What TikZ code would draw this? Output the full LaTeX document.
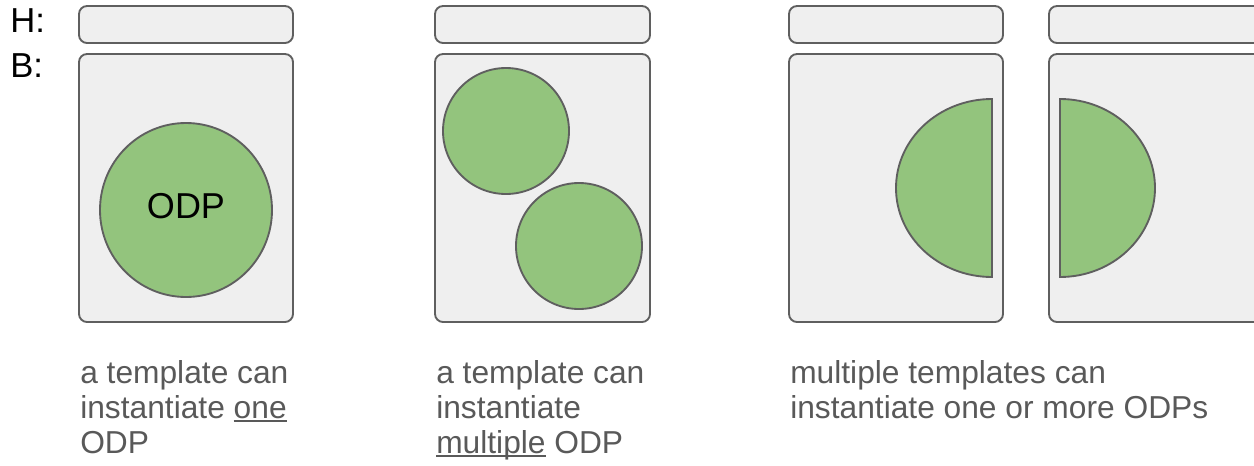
\documentclass[tikz,border=0pt]{standalone}
\usepackage{fontspec}
\setmainfont{Liberation Sans}
\definecolor{boxfill}{HTML}{EFEFEF}
\definecolor{boxline}{HTML}{5F5F5F}
\definecolor{odpgreen}{HTML}{93C47D}
\definecolor{captext}{HTML}{595959}
\newcommand\myul[1]{\setbox0\hbox{#1}\rlap{\rule[-2.8pt]{\wd0}{1.5pt}}\box0\relax}
\tikzset{
  tbox/.style={draw=boxline, fill=boxfill, line width=1.4pt, rounded corners=6pt},
  odp/.style={draw=boxline, fill=odpgreen, line width=1.4pt},
  lbl/.style={font=\fontsize{26}{29}\selectfont, text=black, inner sep=0pt, anchor=base west},
  captxt/.style={font=\fontsize{23.8}{26.3}\selectfont, text=captext, inner sep=0pt, align=left, anchor=north west},
}
\begin{document}
\begin{tikzpicture}[x=0.75pt, y=-0.75pt]
\useasboundingbox (0,0) rectangle (1254,465);
% labels
\node[lbl] (hl) at (10,32) {H:};
\node[lbl] (bl) at (10,77) {B:};
% panel 1
\draw[tbox] (79,6) rectangle (293,43);
\draw[tbox] (79,54) rectangle (293,322);
\draw[odp] (186,210) ellipse [x radius=86, y radius=87];
\node[font=\fontsize{27}{30}\selectfont, inner sep=0pt] (odp1) at (186,206) {ODP};
% panel 2
\draw[tbox] (435,6) rectangle (650,43);
\draw[tbox] (435,54) rectangle (650,322);
\draw[odp] (506,131) circle [radius=63];
\draw[odp] (579,246) circle [radius=63];
% panel 3
\draw[tbox] (789,6) rectangle (1003,43);
\draw[tbox] (789,54) rectangle (1003,322);
\draw[odp] (992,99) arc[start angle=270, end angle=90, x radius=96, y radius=89] -- cycle;
% panel 4 (cut by the right edge)
\begin{scope}
\clip (0,0) rectangle (1254,465);
\draw[tbox] (1049,6) rectangle (1264,43);
\draw[tbox] (1049,54) rectangle (1264,322);
\draw[odp] (1060,99) arc[start angle=270, end angle=450, x radius=95, y radius=89] -- cycle;
\end{scope}
% captions
\node[captxt] (c1) at (80,360) {a template can\\instantiate \myul{one}\\ODP};
\node[captxt] (c2) at (436,360) {a template can\\instantiate\\\myul{multiple} ODP};
\node[captxt] (c3) at (790,360) {multiple templates can\\instantiate one or more ODPs};
\end{tikzpicture}
\end{document}
